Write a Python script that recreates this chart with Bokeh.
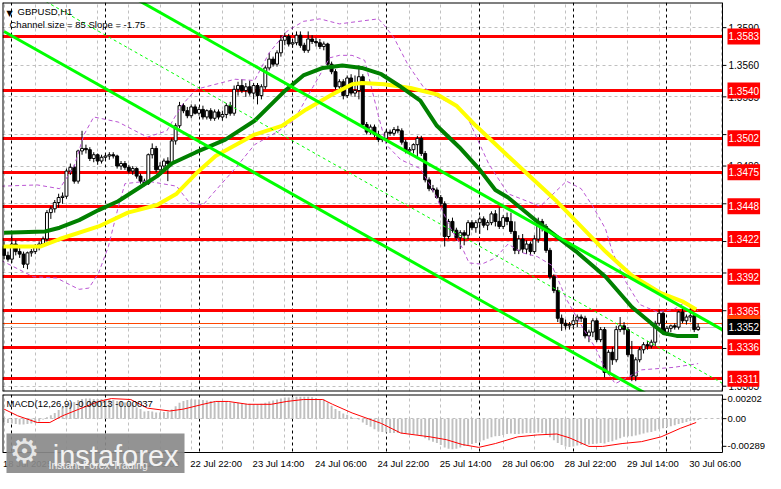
from bokeh.plotting import figure
from bokeh.layouts import column
from bokeh.models import Range1d, FixedTicker, Grid, Label, ColumnDataSource
from bokeh.embed import file_html
from bokeh.resources import INLINE
from bokeh.core.properties import value

# ---------------------------------------------------------------- data
SYMBOL = "GBPUSD,H1"
CHANNEL_TEXT = "Channel size = 85 Slope = -1.75"
MACD_TEXT = "MACD(12,26,9) -0.00013 -0.00037"
BASE = 1.3          # candle / indicator values below are pips above BASE
PIP = 0.0001
MACD_UNIT = 0.00001

# hourly bars, 0 = 21 Jul 00:00 (weekend hours skipped)
bar_index = list(range(-2, 177))

open_pips = [416, 409, 406, 418, 412, 410, 402, 411, 412, 416,
             418, 422, 443, 446, 451, 455, 456, 476, 479, 468,
             492, 494, 493, 486, 489, 484, 487, 488, 489, 488,
             480, 482, 479, 476, 478, 472, 468, 466, 489, 494,
             477, 480, 484, 482, 500, 512, 528, 524, 520, 527,
             522, 525, 519, 524, 518, 523, 519, 521, 528, 522,
             541, 544, 540, 543, 538, 544, 536, 543, 558, 565,
             561, 570, 580, 583, 577, 578, 584, 576, 572, 581,
             579, 578, 575, 577, 561, 555, 543, 547, 536, 550,
             538, 540, 551, 513, 507, 511, 505, 501, 502, 507,
             506, 509, 508, 499, 492, 493, 497, 502, 490, 469,
             462, 461, 455, 450, 424, 436, 429, 423, 427, 425,
             435, 431, 435, 438, 433, 435, 442, 436, 432, 439,
             436, 428, 413, 422, 414, 418, 412, 422, 436, 432,
             413, 392, 381, 359, 355, 353, 354, 357, 360, 359,
             345, 348, 357, 342, 350, 316, 332, 326, 350, 353,
             350, 330, 313, 326, 334, 338, 337, 340, 355, 363,
             348, 351, 353, 352, 364, 357, 360, 361, 350]
high_pips = [420, 412, 426, 421, 415, 412, 412, 414, 418, 420,
             424, 445, 448, 453, 458, 459, 478, 482, 481, 493,
             508, 497, 495, 491, 490, 489, 490, 491, 491, 489,
             484, 484, 481, 480, 479, 474, 470, 490, 498, 496,
             483, 486, 487, 502, 514, 531, 530, 527, 529, 529,
             527, 528, 525, 526, 525, 525, 524, 530, 531, 544,
             547, 549, 546, 548, 546, 546, 545, 560, 570, 567,
             572, 584, 586, 585, 580, 587, 587, 578, 587, 584,
             582, 581, 579, 578, 563, 557, 549, 549, 552, 553,
             552, 560, 553, 515, 513, 513, 508, 503, 509, 509,
             511, 512, 510, 501, 495, 498, 504, 504, 492, 471,
             465, 463, 457, 452, 438, 439, 431, 429, 429, 437,
             437, 437, 440, 440, 437, 444, 445, 447, 441, 443,
             443, 436, 425, 426, 421, 420, 425, 439, 438, 434,
             415, 394, 384, 362, 358, 356, 360, 362, 362, 361,
             350, 359, 359, 352, 352, 334, 336, 353, 360, 356,
             352, 341, 328, 336, 340, 341, 342, 357, 366, 365,
             353, 354, 355, 365, 368, 362, 368, 363, 355]
low_pips = [406, 404, 403, 409, 407, 399, 398, 408, 410, 413,
            416, 420, 438, 443, 447, 450, 454, 473, 466, 466,
            489, 490, 484, 483, 481, 482, 484, 485, 486, 478,
            477, 477, 474, 473, 470, 466, 464, 465, 486, 475,
            473, 476, 468, 480, 497, 510, 522, 518, 518, 521,
            520, 517, 517, 516, 516, 517, 516, 518, 520, 520,
            536, 538, 535, 536, 533, 529, 533, 541, 556, 559,
            559, 567, 576, 575, 574, 576, 574, 570, 570, 577,
            575, 573, 572, 559, 553, 541, 540, 533, 534, 536,
            535, 533, 511, 505, 505, 503, 499, 499, 500, 504,
            504, 506, 497, 490, 489, 490, 487, 488, 467, 460,
            459, 454, 448, 416, 422, 427, 421, 414, 417, 422,
            429, 427, 426, 431, 429, 433, 432, 430, 430, 433,
            426, 410, 410, 411, 410, 409, 410, 419, 428, 411,
            390, 379, 356, 349, 350, 350, 351, 352, 356, 343,
            340, 344, 340, 340, 312, 314, 322, 324, 348, 346,
            328, 309, 309, 324, 331, 334, 335, 337, 353, 346,
            345, 348, 350, 350, 355, 354, 356, 348, 349]
close_pips = [409, 406, 418, 412, 410, 402, 411, 412, 416, 418,
              422, 443, 446, 451, 455, 456, 476, 479, 468, 492,
              494, 493, 486, 489, 484, 487, 488, 489, 488, 480,
              482, 479, 476, 478, 472, 468, 466, 489, 494, 477,
              480, 484, 482, 500, 512, 528, 524, 520, 527, 522,
              525, 519, 524, 518, 523, 519, 521, 528, 522, 541,
              544, 540, 543, 538, 544, 536, 543, 558, 565, 561,
              570, 580, 583, 577, 578, 584, 576, 572, 581, 579,
              578, 575, 577, 561, 555, 543, 547, 536, 550, 538,
              540, 551, 513, 507, 511, 505, 501, 502, 507, 506,
              509, 508, 499, 492, 493, 497, 502, 490, 469, 462,
              461, 455, 450, 424, 436, 429, 423, 427, 425, 435,
              431, 435, 438, 433, 435, 442, 436, 432, 439, 436,
              428, 413, 422, 414, 418, 412, 422, 436, 432, 413,
              392, 381, 359, 355, 353, 354, 357, 360, 359, 345,
              348, 357, 342, 350, 316, 332, 326, 350, 353, 350,
              330, 313, 326, 334, 338, 337, 340, 355, 363, 348,
              351, 353, 352, 364, 357, 360, 361, 350, 352]

# moving averages (sampled along the drawn curves)
ma_green_x = [-2, 8.5, 12.25, 17.25, 22.25, 27.25, 32.25, 37.25, 41, 47.25, 54.75,
              62.25, 69.75, 74.75, 79.75, 84.75, 89.75, 94.75, 99.75, 104.75, 109,
              114.75, 119.75, 124, 127.25, 135.5, 144.75, 152.25, 159, 164, 167.25,
              170.5, 176]
ma_green_pips = [427, 428, 431, 437, 445, 452, 462, 472, 482, 491, 501,
                 516, 539, 552, 558, 560, 558, 553, 543, 532, 512,
                 495, 478, 461, 455, 434, 412, 392, 368, 355, 347,
                 345, 345]
ma_yellow_x = [-2.75, 7.25, 12.25, 22.25, 29.75, 37.25, 42.25, 47.25, 52.25, 62.25,
               69.25, 75.5, 82.25, 87.25, 89.75, 95.5, 102.25, 109, 114, 119,
               127.25, 139.75, 152.25, 159, 166.5, 172.25, 175.5]
ma_yellow_pips = [416, 416, 422, 432, 443, 449, 458, 474, 488, 505,
                  512, 525, 537, 545, 546, 545, 542, 537, 528, 512,
                  488, 452, 412, 393, 379, 372, 366]

# bollinger-style bands (purple dashed)
band_up_x = [-2.75, 6.5, 12.25, 16, 18.5, 21, 27.25, 34.75, 39.75, 43.5, 47.25,
             57.25, 62.25, 66, 70.5, 74.75, 79, 84, 89, 94, 95.5, 98, 101.5,
             105.5, 109, 114, 117.25, 122.25, 127.25, 135.5, 142.25, 146, 149,
             152.25, 154, 157.25, 161, 165.5, 169.75, 172.75, 176]
band_up_pips = [464, 465, 462, 480, 505, 519, 515, 503, 508, 528, 541,
                549, 548, 570, 587, 595, 597, 593, 595, 597, 592, 582, 561,
                543, 535, 528, 516, 482, 458, 448, 468, 462, 448,
                430, 412, 389, 370, 364, 366, 372, 365]
band_lo_x = [-2.75, 5.5, 11.5, 14, 17.25, 19.75, 22.25, 24.75, 27.25, 29, 34.75,
             42.25, 45.5, 49, 51.5, 57.25, 62.25, 68.5, 72.25, 77.25, 81.5, 84,
             87.25, 90.5, 94, 96, 99.75, 104.75, 108.5, 112.25, 115.5, 117.25,
             120.5, 124, 127.25, 131, 134.75, 138.5, 142.25, 146.5, 149.75,
             152.25, 154.75, 161.5, 169.75, 174, 176]
band_lo_pips = [405, 392, 391, 387, 382, 383, 395, 416, 447, 466, 468,
                464, 451, 449, 458, 478, 497, 508, 516, 543, 566, 568,
                568, 564, 520, 497, 485, 478, 458, 432, 415, 403,
                402, 407, 418, 411, 408, 401, 374, 351, 335,
                318, 307, 318, 320, 322, 323]

# regression channel
channel_x = [-2, 185]
channel_lower = [1.3587, 1.3260]
CHANNEL_SIZE = 0.0085

# horizontal levels and prices
levels = [1.3583, 1.3540, 1.3502, 1.3475, 1.3448, 1.3422, 1.3392, 1.3365, 1.3336, 1.3311]
bid_price = 1.3352
ask_price = 1.3355

# scales
price_ticks = [1.3590, 1.3560, 1.3535, 1.3505, 1.3480, 1.3450, 1.3420, 1.3395,
               1.3365, 1.3335, 1.3305]
macd_ticks = [0.00202, 0.0, -0.00289]
macd_tick_labels = ["0.00202", "0.00", "-0.00289"]
x_label_pos = [-2, 14, 30, 46, 62, 78, 94, 110, 126, 142, 158, 174]
x_labels = ["18 Jul 2025", "21 Jul 14:00", "22 Jul 06:00", "22 Jul 22:00",
            "23 Jul 14:00", "24 Jul 06:00", "24 Jul 22:00", "25 Jul 14:00",
            "28 Jul 06:00", "28 Jul 22:00", "29 Jul 14:00", "30 Jul 06:00"]
grid_x = [-2, 6, 14, 22, 30, 38, 46, 54, 62, 70, 78, 86, 94, 102, 110, 118,
          126, 134, 142, 150, 158, 166, 174, 182]
day_separators = [0, 24, 48, 72, 96, 120, 144, 168]

# MACD main (bars) in 1e-5 and signal line samples
macd_main = [-40, -45, -50, -55, -60, -60, -55, -50, -45, -30,
             -10, 15, 35, 60, 90, 120, 145, 165, 175, 195,
             205, 210, 210, 205, 205, 205, 205, 200, 195, 185,
             180, 170, 160, 145, 120, 100, 75, 80, 75, 65,
             65, 70, 75, 95, 130, 165, 185, 195, 200, 200,
             200, 195, 190, 185, 180, 180, 175, 175, 170, 170,
             165, 160, 155, 155, 150, 150, 155, 165, 180, 190,
             200, 210, 220, 220, 225, 230, 230, 230, 230, 225,
             215, 205, 200, 170, 135, 100, 80, 55, 40, 20,
             5, -10, -40, -65, -85, -110, -135, -140, -145, -150,
             -150, -150, -155, -160, -160, -165, -170, -185, -205, -225,
             -240, -255, -275, -300, -315, -320, -315, -300, -285, -275,
             -265, -255, -240, -225, -210, -195, -185, -180, -170, -160,
             -155, -160, -160, -155, -150, -150, -150, -145, -150, -170,
             -195, -225, -255, -275, -290, -295, -290, -280, -275, -275,
             -270, -265, -260, -255, -260, -245, -235, -220, -205, -190,
             -185, -185, -175, -165, -155, -145, -140, -125, -110, -100,
             -90, -80, -70, -55, -45, -35, -25, -18, -13]
signal_x = [-2, 1.5, 6.5, 9.75, 13, 17.25, 22.25, 25.5, 30.5, 34.75, 40.5, 44, 49,
            52.25, 55.5, 60.5, 66.5, 70.5, 74.75, 79.75, 82.25, 87.25, 94.75, 99.75,
            107.25, 111.5, 115.5, 119.75, 124, 129.75, 134.75, 139.75, 143, 148,
            151.5, 156.5, 161.5, 166.5, 171.5, 175.5]
signal_vals = [100, 30, -40, -40, 30, 100, 180, 210, 200, 110, 80, 100, 150,
               180, 180, 150, 150, 180, 200, 200, 150, 60, -50, -150,
               -190, -220, -270, -300, -260, -190, -170, -160, -200, -290,
               -290, -260, -240, -190, -100, -40]

# ---------------------------------------------------------------- layout / styling
W = 765
FRAME_W = W - 2            # min_border_left = 2
AXIS_PX = 43               # width of the price-scale strip (inside the frame)
X_START, X_END = -2.4, 182.25
X_HI = X_END + AXIS_PX * (X_END - X_START) / (FRAME_W - AXIS_PX)
Y_MIN, Y_MAX = 1.33008, 1.3610
M_MIN, M_MAX = -0.003535, 0.002525
MACD_CHART_PX, MACD_LABEL_PX = 58, 21
M_LO = M_MIN - (M_MAX - M_MIN) * MACD_LABEL_PX / MACD_CHART_PX
LABEL_Y = M_MIN - (M_MAX - M_MIN) * 10.5 / MACD_CHART_PX
TICK_LEN = 1.0             # bars
FONT = "Liberation Sans"
FS = "9.5px"
FS_TAG = "10px"
GRID_C = "#c0c0c0"


def to_price(pips):
    return [BASE + v * PIP for v in pips]


o = to_price(open_pips)
h = to_price(high_pips)
l = to_price(low_pips)
c = to_price(close_pips)
src = ColumnDataSource(dict(
    x=bar_index, high=h, low=l,
    top=[max(a, b) for a, b in zip(o, c)],
    bottom=[min(a, b) for a, b in zip(o, c)],
    fill=["white" if cc >= oo else "black" for oo, cc in zip(o, c)],
))

xr = Range1d(X_START, X_HI)


def tag(fig, yv, text, bg, fg="white"):
    fig.add_layout(Label(x=X_END, y=yv, text=text, x_offset=5,
                         text_align="left", text_baseline="middle",
                         text_font=FONT, text_font_size=FS_TAG, text_color=fg,
                         background_fill_color=bg, padding=(1, 4)))


# ================= main price panel
p = figure(width=W, height=393, x_range=xr, y_range=Range1d(Y_MIN, Y_MAX),
           x_axis_type=None, y_axis_type=None,
           output_backend="svg", toolbar_location=None,
           min_border_left=2, min_border_right=0, min_border_top=2, min_border_bottom=2,
           background_fill_color="white", border_fill_color="white",
           outline_line_color=None)

p.add_layout(Grid(dimension=0, ticker=FixedTicker(ticks=grid_x),
                  grid_line_color=GRID_C, grid_line_dash="3 3"))
p.add_layout(Grid(dimension=1, ticker=FixedTicker(ticks=price_ticks),
                  grid_line_color=GRID_C, grid_line_dash="3 3"))

p.vspan(x=day_separators, line_color="black", line_dash="3 3", line_width=1)
p.hspan(y=[bid_price], line_color="#c0c0c0", line_width=1)
p.hspan(y=[ask_price], line_color="#ff4500", line_width=1)
p.hspan(y=levels, line_color="#ff0000", line_width=3)

p.segment(x0="x", y0="low", x1="x", y1="high", source=src, line_color="black", line_width=1)
p.vbar(x="x", top="top", bottom="bottom", width=0.75, source=src,
       fill_color="fill", line_color="black", line_width=1)

BAND_C = "#ba55d3"
p.line(band_up_x, to_price(band_up_pips), line_color=BAND_C, line_dash="4 3", line_width=1)
p.line(band_lo_x, to_price(band_lo_pips), line_color=BAND_C, line_dash="4 3", line_width=1)
p.line(ma_yellow_x, to_price(ma_yellow_pips), line_color="#ffff00", line_width=4)
p.line(ma_green_x, to_price(ma_green_pips), line_color="#008000", line_width=4)

ch_up = [v + CHANNEL_SIZE for v in channel_lower]
ch_mid = [v + CHANNEL_SIZE / 2 for v in channel_lower]
p.line(channel_x, ch_up, line_color="#00ff00", line_width=3)
p.line(channel_x, channel_lower, line_color="#00ff00", line_width=3)
p.line(channel_x, ch_mid, line_color="#00ff00", line_width=1, line_dash="3 3")

# price-scale strip
p.quad(left=[X_END], right=[X_HI], bottom=[Y_MIN], top=[Y_MAX],
       fill_color="white", line_color=None)
p.segment(x0=[X_START, X_START, X_START], y0=[Y_MIN, Y_MAX, Y_MIN],
          x1=[X_START, X_END, X_END], y1=[Y_MAX, Y_MAX, Y_MIN],
          line_color="black", line_width=2)
p.segment(x0=[X_END], y0=[Y_MIN], x1=[X_END], y1=[Y_MAX], line_color="black", line_width=1)
p.segment(x0=[X_END] * len(price_ticks), y0=price_ticks,
          x1=[X_END + TICK_LEN] * len(price_ticks), y1=price_ticks,
          line_color="black", line_width=1)
p.text(x=[X_END] * len(price_ticks), y=price_ticks,
       text=[f"{t:.4f}" for t in price_ticks], x_offset=6,
       text_align="left", text_baseline="middle",
       text_font=value(FONT), text_font_size=value(FS_TAG), text_color="black")

for lv in levels:
    tag(p, lv, f"{lv:.4f}", "#ff0000")
tag(p, ask_price, f"{ask_price:.4f}", "#ff4500")
tag(p, bid_price, f"{bid_price:.4f}", "black")

p.add_layout(Label(x=X_START, y=Y_MAX, text="\u25bc", x_offset=4, y_offset=-11,
                   text_baseline="middle", text_font="DejaVu Sans",
                   text_font_size="8px", text_color="black"))
p.add_layout(Label(x=X_START, y=Y_MAX, text=SYMBOL, x_offset=15, y_offset=-3,
                   text_baseline="top", text_font=FONT, text_font_size=FS,
                   text_color="black"))
p.add_layout(Label(x=X_START, y=Y_MAX, text=CHANNEL_TEXT, x_offset=7, y_offset=-16,
                   text_baseline="top", text_font=FONT, text_font_size=FS,
                   text_color="black"))

# ================= MACD panel
p2 = figure(width=W, height=1 + MACD_CHART_PX + MACD_LABEL_PX, x_range=xr,
            y_range=Range1d(M_LO, M_MAX),
            x_axis_type=None, y_axis_type=None,
            output_backend="svg", toolbar_location=None,
            min_border_left=2, min_border_right=0, min_border_top=1, min_border_bottom=0,
            background_fill_color="white", border_fill_color="white",
            outline_line_color=None)

p2.add_layout(Grid(dimension=0, ticker=FixedTicker(ticks=grid_x),
                   grid_line_color=GRID_C, grid_line_dash="3 3"))
p2.add_layout(Grid(dimension=1, ticker=FixedTicker(ticks=[0.0]),
                   grid_line_color=GRID_C, grid_line_dash="3 3"))

p2.vspan(x=day_separators, line_color="black", line_dash="3 3", line_width=1)
p2.vbar(x=bar_index, top=[v * MACD_UNIT for v in macd_main], bottom=0, width=0.5,
        fill_color="#c0c0c0", line_color=None)
p2.line(signal_x, [v * MACD_UNIT for v in signal_vals], line_color="#ff0000", line_width=1)

# scale strips (right and bottom)
p2.quad(left=[X_END, X_START], right=[X_HI, X_HI], bottom=[M_LO, M_LO], top=[M_MAX, M_MIN],
        fill_color="white", line_color=None)
p2.segment(x0=[X_START, X_START], y0=[M_MIN, M_MAX], x1=[X_START, X_END], y1=[M_MAX, M_MAX],
           line_color="black", line_width=2)
p2.segment(x0=[X_START, X_END], y0=[M_MIN, M_MIN], x1=[X_END, X_END], y1=[M_MIN, M_MAX],
           line_color="black", line_width=1)
p2.segment(x0=[X_END] * len(macd_ticks), y0=macd_ticks,
           x1=[X_END + TICK_LEN] * len(macd_ticks), y1=macd_ticks,
           line_color="black", line_width=1)
p2.text(x=[X_END] * len(macd_ticks), y=macd_ticks, text=macd_tick_labels, x_offset=5,
        text_align="left", text_baseline="middle",
        text_font=value(FONT), text_font_size=value(FS), text_color="black")
p2.text(x=x_label_pos, y=[LABEL_Y] * len(x_label_pos), text=x_labels, x_offset=-1,
        text_align="left", text_baseline="middle",
        text_font=value(FONT), text_font_size=value(FS), text_color="black")

p2.add_layout(Label(x=X_START, y=M_MAX, text=MACD_TEXT, x_offset=4, y_offset=-3,
                    text_baseline="top", text_font=FONT, text_font_size=FS,
                    text_color="black"))

# watermark
p2.add_layout(Label(x=X_START, y=M_MIN, text="\u00a0\u00a0\u00a0\u00a0\u00a0instaforex",
                    x_offset=4, y_offset=19, text_baseline="top",
                    text_font=FONT, text_font_size="29px", text_color="#f2f2f2",
                    background_fill_color="#8a8a8a", background_fill_alpha=0.92,
                    padding=6))
p2.add_layout(Label(x=X_START, y=M_MIN, text="\u2699", x_offset=22, y_offset=2,
                    text_align="center", text_baseline="middle",
                    text_font="DejaVu Sans", text_font_size="34px", text_color="#e6e6e6"))
p2.add_layout(Label(x=X_START, y=M_MIN, text="Instant Forex Trading", x_offset=46,
                    y_offset=-12, text_baseline="middle", text_font=FONT,
                    text_font_size="10.5px", text_color="#eeeeee"))

layout = column(p, p2, spacing=0)
open("out.html", "w").write(file_html(layout, INLINE, "GBPUSD H1"))
